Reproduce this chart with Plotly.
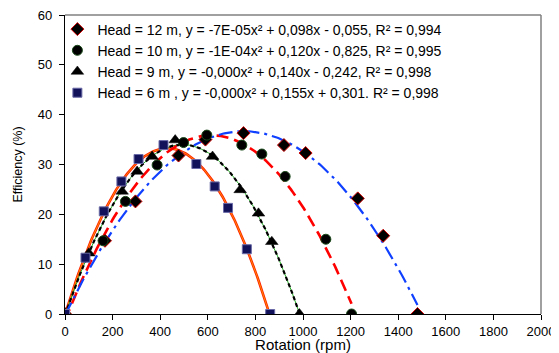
import numpy as np
import plotly.graph_objects as go

# ---- data ----
rpm_12 = [0, 168, 296, 477, 590, 750, 920, 1011, 1230, 1337, 1481]
eff_12 = [0, 14.7, 22.6, 31.8, 35.0, 36.3, 33.9, 32.3, 23.2, 15.7, 0]

rpm_10 = [0, 160, 254, 387, 498, 596, 743, 827, 925, 1096, 1204]
eff_10 = [0, 14.7, 22.6, 29.9, 34.4, 35.9, 33.9, 32.1, 27.6, 15.0, 0]

rpm_9 = [0, 100, 240, 303, 366, 463, 620, 736, 813, 869, 985]
eff_9 = [0, 12.2, 24.6, 28.6, 31.6, 34.9, 31.6, 24.9, 20.2, 14.5, 0]

rpm_6 = [0, 86, 163, 237, 309, 414, 552, 629, 685, 764, 862]
eff_6 = [0, 11.3, 20.6, 26.6, 31.1, 33.9, 30.1, 25.6, 21.3, 13.0, 0]

names = [
    "Head = 12 m, y = -7E-05x² + 0,098x - 0,055, R² = 0,994",
    "Head = 10 m, y = -1E-04x² + 0,120x - 0,825, R² = 0,995",
    "Head = 9 m, y = -0,000x² + 0,140x - 0,242, R² = 0,998",
    "Head = 6 m , y = -0,000x² + 0,155x + 0,301. R² = 0,998",
]

x_ticks = [0, 200, 400, 600, 800, 1000, 1200, 1400, 1600, 1800, 2000]
y_ticks = [0, 10, 20, 30, 40, 50, 60]

fig = go.Figure()


def trend(xs, ys):
    c = np.polyfit(xs, ys, 2)
    xx = np.linspace(min(xs), max(xs), 200)
    return xx, np.polyval(c, xx)


# trendlines (not in legend)
xx, yy = trend(rpm_6, eff_6)
fig.add_trace(go.Scatter(x=xx, y=yy, mode="lines", showlegend=False,
                         line=dict(color="#ff1a00", width=2.6), hoverinfo="skip"))
fig.add_trace(go.Scatter(x=xx, y=yy, mode="lines", showlegend=False,
                         line=dict(color="#ffb000", width=0.8), hoverinfo="skip"))

xx, yy = trend(rpm_9, eff_9)
fig.add_trace(go.Scatter(x=xx, y=yy, mode="lines", showlegend=False,
                         line=dict(color="#22aa22", width=1.0), hoverinfo="skip"))
fig.add_trace(go.Scatter(x=xx, y=yy, mode="lines", showlegend=False,
                         line=dict(color="#000000", width=2.2, dash="4px,3px"), hoverinfo="skip"))

xx, yy = trend(rpm_10, eff_10)
fig.add_trace(go.Scatter(x=xx, y=yy, mode="lines", showlegend=False,
                         line=dict(color="#ff0000", width=2.6, dash="12px,6px"), hoverinfo="skip"))

xx, yy = trend(rpm_12, eff_12)
fig.add_trace(go.Scatter(x=xx, y=yy, mode="lines", showlegend=False,
                         line=dict(color="#1040ff", width=2.2, dash="14px,5px,3px,5px"), hoverinfo="skip"))

# markers (legend)
fig.add_trace(go.Scatter(x=rpm_12, y=eff_12, mode="markers", name=names[0],
                         marker=dict(symbol="diamond", size=10, color="#000000",
                                     line=dict(color="#cc0000", width=1))))
fig.add_trace(go.Scatter(x=rpm_10, y=eff_10, mode="markers", name=names[1],
                         marker=dict(symbol="circle", size=10, color="#000000",
                                     line=dict(color="#1a4a1a", width=1))))
fig.add_trace(go.Scatter(x=rpm_9, y=eff_9, mode="markers", name=names[2],
                         marker=dict(symbol="triangle-up", size=11, color="#000000",
                                     line=dict(color="#000000", width=0.5))))
fig.add_trace(go.Scatter(x=rpm_6, y=eff_6, mode="markers", name=names[3],
                         marker=dict(symbol="square", size=9, color="#12125a",
                                     line=dict(color="#6a6aa8", width=1))))

font = "Liberation Sans, Arial, sans-serif"

# the page body has an 8px default margin; size the figure to fit the window
fig.update_layout(
    width=551, height=345,
    margin=dict(l=56.5, r=17.5, t=7, b=38.7, autoexpand=False),
    paper_bgcolor="white", plot_bgcolor="white",
    font=dict(family=font, color="#000000", size=13),
    showlegend=True,
    legend=dict(x=-0.016, y=1.005, xanchor="left", yanchor="top",
                bgcolor="rgba(0,0,0,0)", font=dict(size=14, family=font),
                tracegroupgap=0, itemwidth=30),
    xaxis=dict(range=[0, 2000], tickvals=x_ticks, ticks="outside", ticklen=5,
               tickcolor="#000000", showline=True, linecolor="#000000", linewidth=1.2,
               showgrid=False, zeroline=False, tickfont=dict(size=13), automargin=False,
               ticklabeloverflow="allow",
               title=dict(text="Rotation (rpm)", font=dict(size=15), standoff=0)),
    yaxis=dict(range=[0, 60], tickvals=y_ticks, ticks="outside", ticklen=5,
               tickcolor="#000000", showline=True, linecolor="#000000", linewidth=1.2,
               showgrid=False, zeroline=False, tickfont=dict(size=13), automargin=False,
               ticklabelstandoff=4, ticklabeloverflow="allow",
               title=dict(text="Efficiency (%)", font=dict(size=12.5), standoff=12)),
    shapes=[
        dict(type="line", xref="paper", yref="paper", x0=0, x1=1, y0=1, y1=1,
             line=dict(color="#808080", width=1.5)),
        dict(type="line", xref="paper", yref="paper", x0=1, x1=1, y0=0, y1=1,
             line=dict(color="#808080", width=1.5)),
    ],
)

fig.write_html("out.html")
